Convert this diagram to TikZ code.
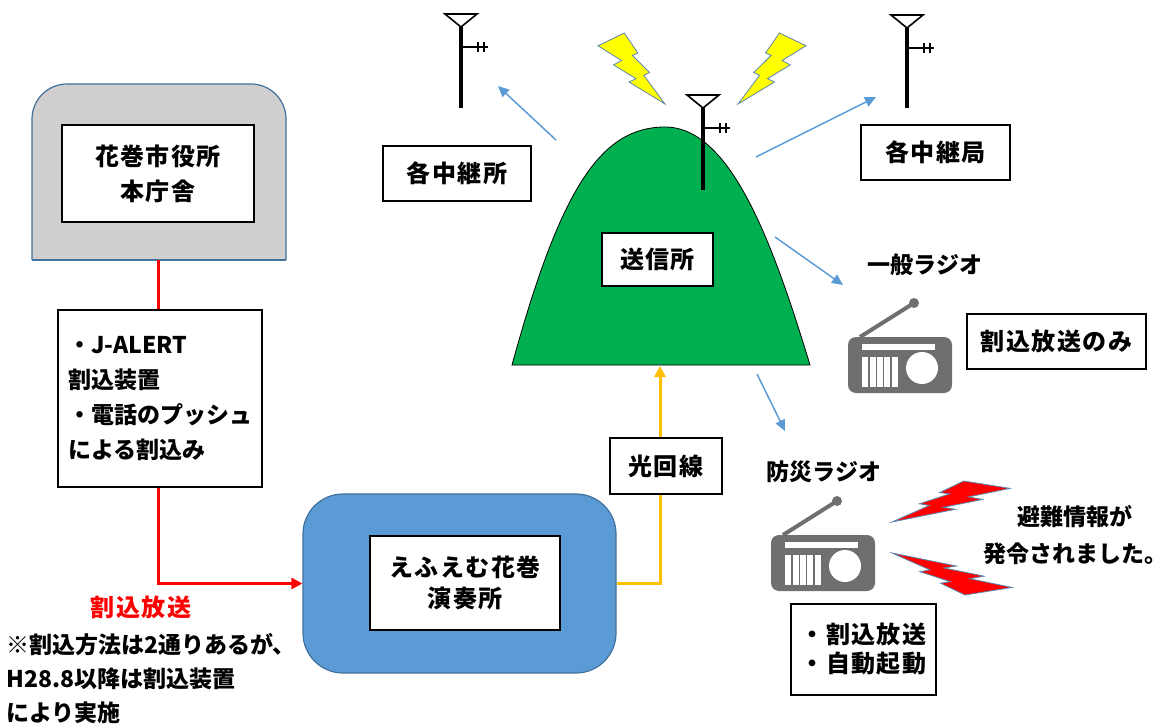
\documentclass[tikz,border=0pt]{standalone}
\usepackage{fontspec}
\newfontfamily\jp{Noto Sans CJK JP}
\newfontfamily\jpwide{Noto Sans CJK JP}[LetterSpace=6]
\usetikzlibrary{arrows.meta,calc}
\definecolor{hallgray}{HTML}{D0CECE}
\definecolor{frameblue}{HTML}{41719C}
\definecolor{studioblue}{HTML}{5B9BD5}
\definecolor{hillgreen}{HTML}{00B050}
\definecolor{fiber}{HTML}{FFC000}
\definecolor{radiogray}{HTML}{6F6F6F}
\definecolor{wave}{HTML}{5B9BD5}
\definecolor{boltyellow}{HTML}{FFFF00}
\definecolor{boltred}{HTML}{FF0000}
\definecolor{boltedge}{HTML}{5B86B0}

% lightning bolt outline in a unit box (wide end top left, tip bottom right)
\newcommand\flashoutline{(0.392,0) -- (0,0.18) -- (0.352,0.388) -- (0.2325,0.449) -- (0.566,0.643) -- (0.4635,0.6905) -- (1,1) -- (0.6837,0.5962) -- (0.7675,0.5559) -- (0.5116,0.3147) -- (0.5954,0.2815) -- cycle}

\tikzset{
  txt/.style={font=\jp\bfseries\fontsize{23}{35}\selectfont, inner sep=0pt},
  wbox/.style={txt, draw=black, line width=1.3pt, fill=white, align=center},
  widebox/.style={wbox, font=\jpwide\bfseries\fontsize{24}{35}\selectfont},
  radiowave/.style={draw=wave, line width=1.5pt, -{Triangle[length=11pt,width=10pt]}},
  feed/.style={line width=3pt},
  flash/.style={draw=boltedge, line width=0.8pt, line join=miter},
  antenna/.pic={
    \draw[line width=1.6pt, fill=white, line join=miter] (-16,-13) -- (16,-13) -- (0,0) -- cycle;
    \draw[line width=4pt] (0,0) -- (0,#1);
    \draw[line width=1.3pt] (0,20) -- (27,20) (17,15) -- (17,25) (23,15) -- (23,25);
  },
  radio/.pic={
    \fill[radiogray, rounded corners=8pt] (0,0) rectangle (104,56);
    \draw[radiogray, line width=4pt] (12,0) -- (66,-34);
    \fill[radiogray] (66,-34) circle (5pt);
    \fill[white] (14,7) rectangle (87,13);
    \fill[white] (14,20) rectangle (50,50);
    \foreach \gx in {21.2,28.4,35.6,42.8} \draw[radiogray, line width=1.5pt] (\gx,20) -- (\gx,50);
    \fill[white] (74,31) circle (16pt);
  },
}

\begin{document}
\begin{tikzpicture}[x=1pt,y=-1pt]
\useasboundingbox[fill=white] (0,0) rectangle (1167,727);

% city hall building: rounded top, flat bottom
\begin{scope}
  \clip (0,0) rectangle (400,260);
  \draw[fill=hallgray, draw=frameblue, line width=1.2pt, rounded corners=35pt] (32,84) rectangle (286,330);
\end{scope}
\draw[frameblue, line width=1.2pt] (32,260) -- (286,260);
\coordinate (hallbottom) at (158,260);
\node[widebox, minimum width=192pt, minimum height=97pt] (hall) at (158,173.5) {花巻市役所\\本庁舎};

% J-ALERT equipment
\node[wbox, align=left, minimum width=204pt, minimum height=177pt] (jalert) at (160,398.5)
  {・J-ALERT\\割込装置\\・電話のプッシュ\\による割込み};

% studio
\node[draw=frameblue, fill=studioblue, line width=1.2pt, rounded corners=40pt,
      minimum width=313pt, minimum height=179pt, inner sep=0pt] (studiobox) at (459.5,583.5) {};
\node[widebox, font=\jpwide\bfseries\fontsize{24}{31}\selectfont, minimum width=190pt, minimum height=94pt] (studio) at (465,583) {えふえむ花巻\\演奏所};

% red interrupt feed
\draw[boltred, feed] (hallbottom) -- (hallbottom |- jalert.north);
\draw[boltred, feed, -{Triangle[length=11pt,width=11pt]}] (hallbottom |- jalert.south) |- (studiobox.west);
\node[txt, text=boltred, font=\jpwide\bfseries\fontsize{24}{35}\selectfont] (irq) at (141,607) {割込放送};
\node[txt, align=left, anchor=north west, font=\jp\bfseries\fontsize{23}{34}\selectfont] (note) at (6,633)
  {※割込方法は2通りあるが、\\H28.8以降は割込装置\\により実施};

% lightning bolts above the transmitter
\begin{scope}[shift={(598,33)}, x=67pt, y=-71pt]
  \filldraw[flash, fill=boltyellow] \flashoutline;
\end{scope}
\begin{scope}[shift={(806,33)}, x=-68pt, y=-71pt]
  \filldraw[flash, fill=boltyellow] \flashoutline;
\end{scope}

% transmitter hill
\draw[fill=hillgreen, line width=0.8pt] (512,365) .. controls (560,190) and (600,127) .. (665,127)
  .. controls (730,127) and (772,240) .. (810,365) -- cycle;
\coordinate (hillbase) at (660,366);
\pic (antT) at (703,108) {antenna=82};
\node[widebox, minimum width=111pt, minimum height=53pt] (sosin) at (657.5,259.5) {送信所};

% fibre line
\node[widebox, minimum width=112pt, minimum height=56pt] (hikari) at (666,466) {光回線};
\draw[fiber, feed] (studiobox.east) -| ($(hikari.south)+(-6,0)$);
\draw[fiber, feed, -{Triangle[length=11pt,width=11pt]}] ($(hikari.north)+(-6,0)$) -- (hillbase);

% relay stations
\pic (antL) at (461,27) {antenna=81};
\pic (antR) at (907,28) {antenna=80};
\node[widebox, minimum width=148pt, minimum height=55pt] (relayL) at (457,173.5) {各中継所};
\node[widebox, minimum width=149pt, minimum height=55pt] (relayR) at (935.5,152.5) {各中継局};

% radio waves
\coordinate (wL0) at (556,140);  \coordinate (wL1) at (498,86);
\coordinate (wR0) at (756,157);  \coordinate (wR1) at (876,97);
\coordinate (wG0) at (775,237);  \coordinate (wG1) at (843,285);
\coordinate (wB0) at (757,374);  \coordinate (wB1) at (785,431);
\draw[radiowave] (wL0) -- (wL1);
\draw[radiowave] (wR0) -- (wR1);
\draw[radiowave] (wG0) -- (wG1);
\draw[radiowave] (wB0) -- (wB1);

% ordinary radio
\node[txt] (ippan) at (925,265) {一般ラジオ};
\pic (radioG) at (848,337) {radio};
\node[widebox, minimum width=179pt, minimum height=55pt] (onlyirq) at (1056.5,341.5) {割込放送のみ};

% disaster radio
\node[txt] (bosai) at (824,472) {防災ラジオ};
\pic (radioB) at (771,535) {radio};
\node[widebox, align=left, font=\jpwide\bfseries\fontsize{24}{29}\selectfont, minimum width=145pt, minimum height=91pt] (bosaibox) at (863.5,649.5)
  {・割込放送\\・自動起動};
\begin{scope}[shift={(1010,481)}, x=-118pt, y=-41pt]
  \filldraw[flash, fill=boltred] \flashoutline;
\end{scope}
\begin{scope}[shift={(1012,595)}, x=-120pt, y=42pt]
  \filldraw[flash, fill=boltred] \flashoutline;
\end{scope}
\node[txt, align=center, font=\jp\bfseries\fontsize{23}{37}\selectfont] (hinan) at (1075,535) {避難情報が\\発令されました。};

\end{tikzpicture}
\end{document}
